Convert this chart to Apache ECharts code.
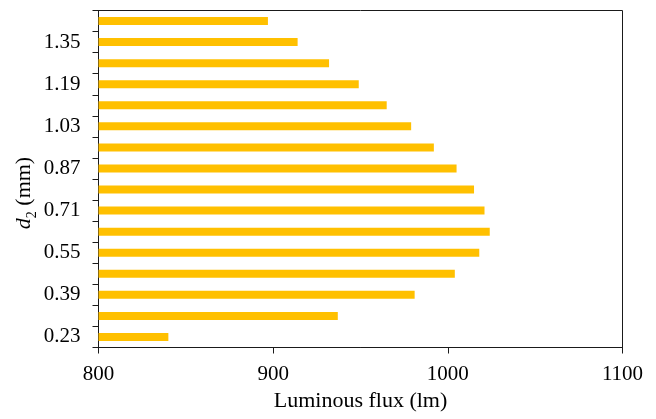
<!DOCTYPE html>
<html>
<head>
<meta charset="utf-8">
<script src="https://cdn.jsdelivr.net/npm/echarts@6/dist/echarts.min.js"></script>
<style>
  html, body { margin: 0; padding: 0; background: #fff; }
  #chart { width: 656px; height: 419px; }
</style>
</head>
<body>
<div id="chart"></div>
<script>
// Distance d2 (mm), bottom to top
const distances = ['0.23', '0.31', '0.39', '0.47', '0.55', '0.63', '0.71', '0.79',
                   '0.87', '0.95', '1.03', '1.11', '1.19', '1.27', '1.35', '1.43'];
// Luminous flux (lm) for each distance
const fluxValues = [840, 937, 981, 1004, 1018, 1024, 1021, 1015,
                    1005, 992, 979, 965, 949, 932, 914, 897];
// Flux axis ticks
const fluxMin = 800;
const fluxMax = 1100;
const fluxStep = 100;

const FONT = '"Liberation Serif", "Times New Roman", serif';

const chart = echarts.init(document.getElementById('chart'), null, { renderer: 'canvas' });

chart.setOption({
  animation: false,
  backgroundColor: '#ffffff',
  grid: {
    left: 98.5,
    right: 33.5,
    top: 10.5,
    bottom: 71.5,
    show: true,
    borderColor: '#1a1a1a',
    borderWidth: 1,
    backgroundColor: 'transparent'
  },
  xAxis: {
    type: 'value',
    min: fluxMin,
    max: fluxMax,
    interval: fluxStep,
    name: 'Luminous flux (lm)',
    nameLocation: 'middle',
    nameGap: 43,
    nameTextStyle: { fontFamily: FONT, fontSize: 22, color: '#000' },
    axisLine: { show: true, lineStyle: { color: '#1a1a1a', width: 1 } },
    axisTick: { show: true, inside: false, length: 6, lineStyle: { color: '#1a1a1a' } },
    axisLabel: {
      fontFamily: FONT, fontSize: 21, color: '#000', margin: 16,
      formatter: v => String(v)
    },
    splitLine: { show: false }
  },
  yAxis: {
    type: 'category',
    data: distances,
    axisLine: { show: true, lineStyle: { color: '#1a1a1a', width: 1 } },
    axisTick: { show: true, inside: false, length: 6, interval: 0, lineStyle: { color: '#1a1a1a' } },
    axisLabel: { fontFamily: FONT, fontSize: 21, color: '#000', margin: 18, interval: 1 },
    splitLine: { show: false }
  },
  graphic: [{
    type: 'text',
    x: 24,
    y: 193,
    rotation: Math.PI / 2,
    style: {
      text: '{i|d}{s|2}{n| (mm)}',
      align: 'center',
      verticalAlign: 'middle',
      fill: '#000',
      font: '22px ' + FONT,
      rich: {
        i: { fontFamily: FONT, fontSize: 22, fontStyle: 'italic', lineHeight: 30, verticalAlign: 'middle', fill: '#000' },
        s: { fontFamily: FONT, fontSize: 14, lineHeight: 14, verticalAlign: 'bottom', fill: '#000' },
        n: { fontFamily: FONT, fontSize: 22, lineHeight: 30, verticalAlign: 'middle', fill: '#000' }
      }
    }
  }],
  series: [{
    type: 'bar',
    data: fluxValues,
    barWidth: 8,
    itemStyle: { color: '#FFC000' }
  }]
});
</script>
</body>
</html>
